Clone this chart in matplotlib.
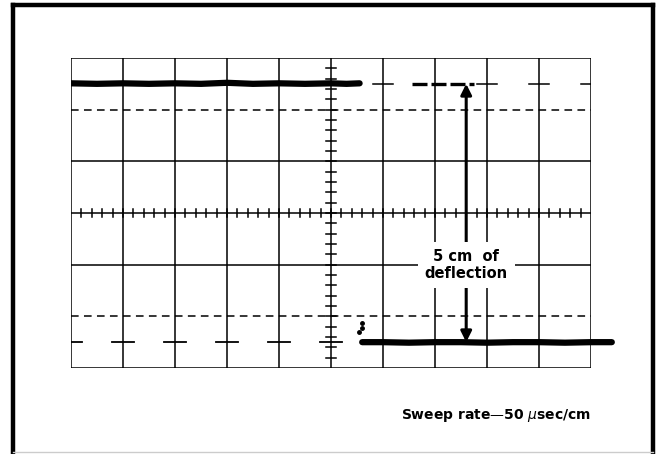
import numpy as np
from matplotlib import pyplot as plt
from matplotlib.lines import Line2D

# graticule: 10 x 6 divisions (cm)
x_major = [0, 1, 2, 3, 4, 5, 6, 7, 8, 9, 10]
y_solid = [-3, -1, 0, 1, 3]
y_dashed = [-2, 2]

# trace (cm)
top_x = [0.0, 0.5, 1.0, 1.5, 2.0, 2.5, 3.0, 3.5, 4.0, 4.5, 5.0, 5.3, 5.55]
top_y = [2.51, 2.50, 2.51, 2.50, 2.51, 2.50, 2.52, 2.50, 2.51, 2.50, 2.51, 2.50, 2.51]
bot_x = [5.6, 6.0, 6.5, 7.0, 7.5, 8.0, 8.5, 9.0, 9.5, 10.0, 10.4]
bot_y = [-2.50, -2.50, -2.51, -2.50, -2.50, -2.51, -2.50, -2.50, -2.51, -2.50, -2.50]
dot_x = [5.54, 5.6, 5.6]
dot_y = [-2.30, -2.12, -2.22]

# marker crosses at +/-2.5 cm
top_marks = [6, 8, 9, 10]
bot_marks = [0, 1, 2, 3, 4, 5]

fig = plt.figure(figsize=(6.59, 4.54), dpi=100)
ax = fig.add_axes([71/659, 86/454, 520/659, 310/454])
ax.set_xlim(0, 10)
ax.set_ylim(-3, 3)
ax.axis('off')

k = 'black'
for x in x_major:
    ax.plot([x, x], [-3, 3], color=k, lw=1.1)
for y in y_solid:
    ax.plot([0, 10], [y, y], color=k, lw=1.1)
for y in y_dashed:
    ax.plot([0, 10], [y, y], color=k, lw=1.1, dashes=(5, 3.5))

# minor ticks on the centre lines
for t in np.arange(0.2, 10, 0.2):
    ax.plot([t, t], [-0.08, 0.08], color=k, lw=1.1)
for t in np.arange(-2.8, 3, 0.2):
    ax.plot([4.9, 5.1], [t, t], color=k, lw=1.1)

# crosses at 5 cm deflection
for x in top_marks:
    ax.plot([max(x - 0.2, 0), min(x + 0.2, 10)], [2.5, 2.5], color=k, lw=1.1)
for x in bot_marks:
    ax.plot([max(x - 0.22, 0), min(x + 0.22, 10)], [-2.5, -2.5], color=k, lw=1.3)
ax.plot([6.55, 7.75], [2.5, 2.5], color=k, lw=2.4, dashes=(4.5, 1.2))

# trace
ax.plot(top_x, top_y, color=k, lw=4.5, solid_capstyle='round')
ax.plot(bot_x, bot_y, color=k, lw=4.5, solid_capstyle='round', clip_on=False)
ax.plot(dot_x, dot_y, 'o', color=k, ms=2.5, ls='none')

# deflection arrow
ax.annotate('', xy=(7.6, 2.5), xytext=(7.6, -2.5),
            arrowprops=dict(arrowstyle='<|-|>', color=k, lw=2.2,
                            mutation_scale=16, shrinkA=0, shrinkB=0))
ax.text(7.6, -1.0, '5 cm  of\ndeflection', ha='center', va='center',
        fontsize=10.5, fontweight='bold', linespacing=1.15,
        bbox=dict(facecolor='white', edgecolor='none', pad=5), zorder=5)

fig.text(591/659, 1 - 415/454, 'Sweep rate\u201450 $\\mu$sec/cm', ha='right',
         va='center', fontsize=10, fontweight='bold')

# outer frame
fig.add_artist(Line2D([13/659, 13/659], [0, 1 - 5/454], color=k, lw=3.2))
fig.add_artist(Line2D([13/659, 653/659], [1 - 5/454, 1 - 5/454], color=k, lw=3.2))
fig.add_artist(Line2D([653/659, 653/659], [0, 1 - 5/454], color=k, lw=3.2))
fig.add_artist(Line2D([13/659, 653/659], [2/454, 2/454], color='#cccccc', lw=1))

fig.savefig('out.png', dpi=100)
